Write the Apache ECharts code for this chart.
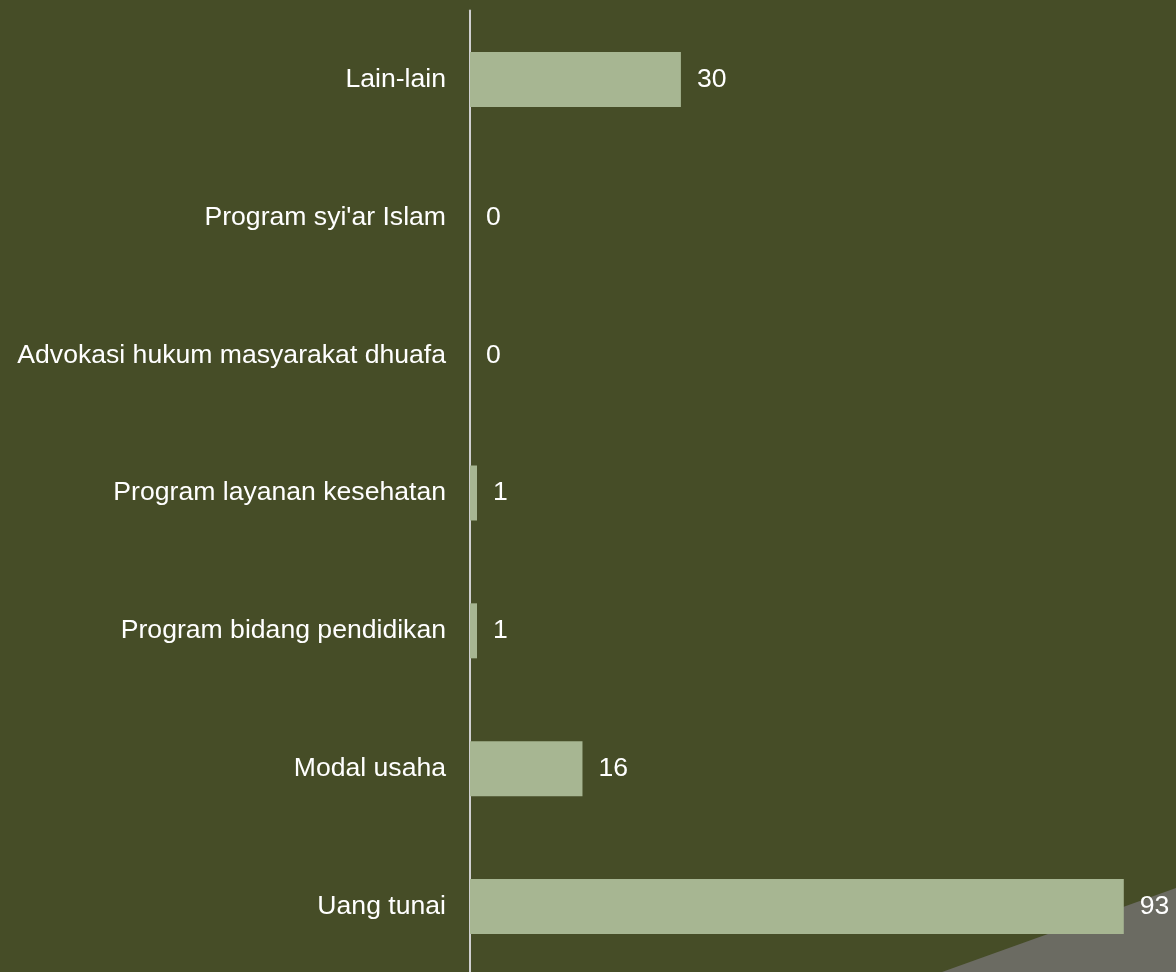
<!DOCTYPE html>
<html>
<head>
<meta charset="utf-8">
<script src="https://cdn.jsdelivr.net/npm/echarts@6/dist/echarts.min.js"></script>
<style>
html,body{margin:0;padding:0;background:#464d27;}
#c{width:1176px;height:972px;}
</style>
</head>
<body>
<div id="c"></div>
<script>
const categories = ["Uang tunai", "Modal usaha", "Program bidang pendidikan", "Program layanan kesehatan", "Advokasi hukum masyarakat dhuafa", "Program syi'ar Islam", "Lain-lain"];
const values = [93, 16, 1, 1, 0, 0, 30];

const chart = echarts.init(document.getElementById('c'));
chart.setOption({
  backgroundColor: '#464d27',
  animation: false,
  graphic: [{
    type: 'polygon',
    z: 0,
    silent: true,
    shape: { points: [[942, 972], [1176, 888], [1176, 972]] },
    style: { fill: '#6b6b62' }
  }],
  grid: { left: 470, top: 10.6, width: 703, height: 964.8, containLabel: false, outerBoundsMode: 'none' },
  xAxis: {
    type: 'value', min: 0, max: 100,
    show: false,
    splitLine: { show: false }
  },
  yAxis: {
    type: 'category',
    data: categories,
    axisLine: { show: true, lineStyle: { color: '#d0d0d0', width: 2 } },
    axisTick: { show: false },
    axisLabel: {
      color: '#ffffff', fontSize: 26.6, fontFamily: 'Liberation Sans, Arial, sans-serif',
      margin: 24
    }
  },
  series: [{
    type: 'bar',
    data: values,
    barWidth: 55,
    z: 2,
    itemStyle: { color: '#a7b692' },
    label: {
      show: true, position: 'right', distance: 16,
      color: '#ffffff', fontSize: 26.6, fontFamily: 'Liberation Sans, Arial, sans-serif'
    }
  }]
});
</script>
</body>
</html>
